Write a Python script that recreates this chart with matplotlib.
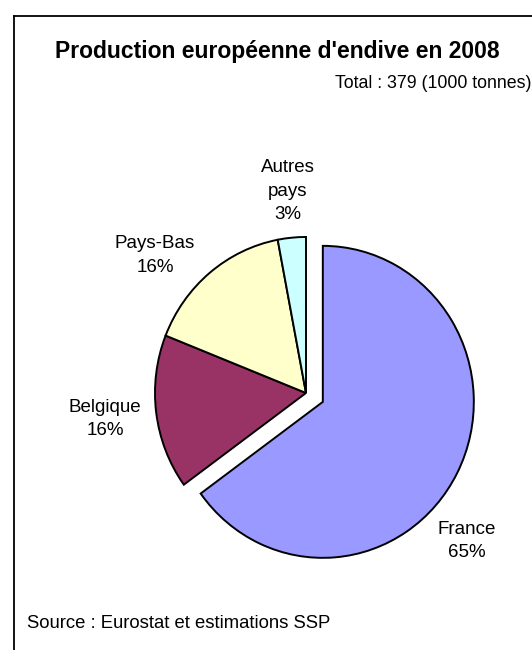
import math
import matplotlib
matplotlib.use("Agg")
import matplotlib.pyplot as plt
from matplotlib.lines import Line2D

plt.rcParams['font.family'] = ['Liberation Sans', 'DejaVu Sans']

# data
pays = ["France", "Belgique", "Pays-Bas", "Autres\npays"]
parts = [65, 16, 16, 3]
couleurs = ["#9999FF", "#993366", "#FFFFCC", "#CCFFFF"]
eclate = [0.125, 0, 0, 0]

W, H = 532, 650
cx, cy = 306, 393       # pie centre in pixels
rx, ry = 151, 156       # the original pie is very slightly stretched

fig = plt.figure(figsize=(W / 100, H / 100), dpi=100)
ax = fig.add_axes([0, 0, 1, 1])

labels = [f"{p}\n{v}%" for p, v in zip(pays, parts)]
wedges, texts = ax.pie(parts, labels=labels, colors=couleurs, explode=eclate,
                       startangle=90, counterclock=False, radius=1.0,
                       labeldistance=1.34,
                       wedgeprops=dict(edgecolor='black', linewidth=1.4),
                       textprops=dict(fontsize=13.5, ha='center', va='center',
                                      linespacing=1.5))
for t in texts:
    t.set_horizontalalignment('center')

ax.set_xlim(-cx / rx, (W - cx) / rx)
ax.set_ylim((cy - H) / ry, cy / ry)
ax.set_aspect('auto')
ax.axis('off')

# a few labels are not on the wedge mid-line: (angle, distance)
decal = {0: (-43, 1.307), 2: (138.6, 1.333), 3: (95.3, 1.30)}
for i, (ang, d) in decal.items():
    x0, y0 = wedges[i].center
    a = math.radians(ang)
    texts[i].set_position((x0 + d * math.cos(a), y0 + d * math.sin(a)))

fig.text(277 / W, 1 - 58 / H, "Production européenne d'endive en 2008",
         ha='center', va='baseline', fontsize=16.5, fontweight='bold')
fig.text(335 / W, 1 - 88 / H, "Total : 379 (1000 tonnes)",
         ha='left', va='baseline', fontsize=12.8)
fig.text(27 / W, 1 - 628 / H, "Source : Eurostat et estimations SSP",
         ha='left', va='baseline', fontsize=13.3)

# frame (only left and top edges are inside the picture)
fig.add_artist(Line2D([14 / W, 14 / W], [0, 1 - 16 / H], color='black',
                      linewidth=1.3, transform=fig.transFigure))
fig.add_artist(Line2D([14 / W, 1], [1 - 16 / H, 1 - 16 / H], color='black',
                      linewidth=1.3, transform=fig.transFigure))

fig.savefig("out.png", dpi=100)
